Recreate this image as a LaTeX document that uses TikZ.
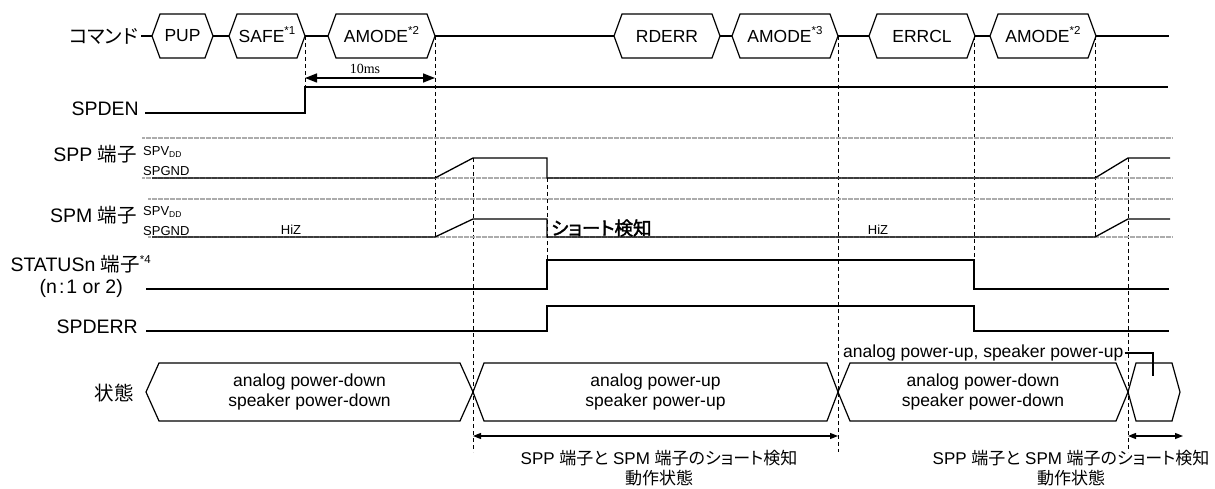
\documentclass[tikz,border=0pt]{standalone}
\usepackage{fontspec}
\setmainfont{Liberation Sans}
\newfontfamily\cjk[RawFeature=+palt]{Noto Sans CJK JP}
\newfontfamily\cjkbold[RawFeature=+palt,FakeBold=2]{Noto Sans CJK JP}
\newfontfamily\tenms{Liberation Serif}
\usetikzlibrary{arrows.meta}
\newcommand{\fs}[1]{\fontsize{#1}{#1}\selectfont}
\newcommand{\sups}[1]{\smash{\raisebox{8pt}{\fs{11.5}#1}}}
\newcommand{\subdd}{\raisebox{-1.5pt}{\fs{8.5}DD}}
% name, xl, xr, yc, half height, slant, style, text
\newcommand{\hexa}[8]{%
  \draw[outline] (#2,#4) -- ({#2+#6},{#4-#5}) -- ({#3-#6},{#4-#5}) -- (#3,#4)
    -- ({#3-#6},{#4+#5}) -- ({#2+#6},{#4+#5}) -- cycle;
  \coordinate (#1-w) at (#2,#4);
  \coordinate (#1-e) at (#3,#4);
  \node[#7] (#1) at ({(#2+#3)/2},#4) {#8};
}
\begin{document}
\begin{tikzpicture}[x=1pt,y=-1pt,
  sig/.style={line width=1.3pt, line join=miter},
  outline/.style={line width=1.2pt, line join=miter},
  refl/.style={gray!65, line width=1.2pt, dash pattern=on 0.7pt off 0.5pt},
  vdash/.style={line width=0.8pt, dash pattern=on 4pt off 3pt},
  rowlbl/.style={anchor=east, inner sep=0pt, font=\fs{19.5}},
  boxlbl/.style={inner sep=0pt, font=\fs{17.5}},
  small/.style={anchor=west, inner sep=0pt, font=\fs{13}},
  statelbl/.style={inner sep=0pt, font=\fontsize{17.5}{20}\selectfont, align=center},
  bottomlbl/.style={inner sep=0pt, font=\fontsize{17}{20}\selectfont, align=center},
  bigarr/.style={{Triangle[length=12pt,width=9pt]}-{Triangle[length=12pt,width=9pt]}, line width=1.4pt},
  smallarr/.style={{Triangle[length=8pt,width=6pt]}-{Triangle[length=8pt,width=6pt]}, line width=1.3pt}
]
\useasboundingbox (0,0) rectangle (1215,489);

% ---- dashed guide lines
\draw[vdash] (305,36) -- (305,87);
\draw[vdash] (435,36) -- (435,237);
\draw[vdash] (473,158) -- (473,452);
\draw[vdash] (547,178) -- (547,260);
\draw[vdash] (838,36) -- (838,452);
\draw[vdash] (974,36) -- (974,260);
\draw[vdash] (1095,36) -- (1095,237);
\draw[vdash] (1128,158) -- (1128,452);

% ---- row labels
\node[rowlbl] (cmd) at (138,36) {\cjk コマンド};
\node[rowlbl] (spden) at (139,109) {SPDEN};
\node[rowlbl] (spp) at (137,154) {SPP {\cjk 端子}};
\node[rowlbl] (spm) at (137,215) {SPM {\cjk 端子}};
\node[rowlbl] (status) at (140,264) {STATUSn {\cjk 端子}\rlap{\sups{*4}}};
\node[rowlbl] (nsel) at (123,288) {(n\kern2pt:\kern2pt1 or 2)};
\node[rowlbl] (spderr) at (138,327) {SPDERR};
\node[rowlbl] (state) at (134,393) {\cjk 状態};

% ---- command row
\hexa{pup}{152}{213}{36}{22}{8}{boxlbl}{PUP}
\hexa{safe}{229}{305}{36}{22}{8}{boxlbl}{SAFE\sups{*1}}
\hexa{amodea}{328}{435}{36}{22}{8}{boxlbl}{AMODE\sups{*2}}
\hexa{rderr}{614}{720}{36}{22}{8}{boxlbl}{RDERR}
\hexa{amodeb}{732}{838}{36}{22}{8}{boxlbl}{AMODE\sups{*3}}
\hexa{errcl}{869}{975}{36}{22}{8}{boxlbl}{ERRCL}
\hexa{amodec}{990}{1096}{36}{22}{8}{boxlbl}{AMODE\sups{*2}}
\coordinate (cmdend) at (1169,36);
\draw[sig] ([xshift=3pt]cmd.east) -- (pup-w);
\draw[sig] (pup-e) -- (safe-w);
\draw[sig] (safe-e) -- (amodea-w);
\draw[sig] (amodea-e) -- (rderr-w);
\draw[sig] (rderr-e) -- (amodeb-w);
\draw[sig] (amodeb-e) -- (errcl-w);
\draw[sig] (errcl-e) -- (amodec-w);
\draw[sig] (amodec-e) -- (cmdend);

% ---- 10ms
\coordinate (tl) at (305,78);
\coordinate (tr) at (435,78);
\draw[bigarr] (tl) -- (tr);
\node[inner sep=0pt, font=\tenms\fs{14}] (tms) at (365,69) {10ms};

% ---- SPDEN
\draw[sig] (145,113) -- (305,113) -- (305,87) -- (1168,87);

% ---- SPP
\draw[refl] (142,138) -- (1172,138);
\draw[refl] (142,178) -- (1172,178);
\draw[sig] (152,178) -- (435,178) -- (473,158) -- (547,158) -- (547,178) -- (1095,178) -- (1128,158) -- (1170,158);
\node[small] (sppv) at (143,152) {SPV\subdd};
\node[small] (sppg) at (143,171) {SPGND};

% ---- SPM
\draw[refl] (148,199) -- (1172,199);
\draw[refl] (148,237) -- (1172,237);
\draw[sig] (152,237) -- (435,237) -- (473,219) -- (547,219) -- (547,237) -- (1095,237) -- (1128,219) -- (1170,219);
\node[small] (spmv) at (143,212) {SPV\subdd};
\node[small] (spmg) at (143,231) {SPGND};
\node[small, anchor=center] (hiz1) at (291,230) {HiZ};
\node[small, anchor=center] (hiz2) at (878,230) {HiZ};
\node[anchor=west, inner sep=0pt, font=\cjkbold\fs{18.5}] (short) at (551,228) {ショート検知};

% ---- STATUSn / SPDERR
\draw[sig] (146,289) -- (547,289) -- (547,260) -- (974,260) -- (974,289) -- (1169,289);
\draw[sig] (146,331) -- (547,331) -- (547,306) -- (974,306) -- (974,331) -- (1169,331);

% ---- state row
\hexa{sta}{146}{473}{392}{29}{13}{statelbl}{analog power-down\\speaker power-down}
\hexa{stb}{473}{838}{392}{29}{11}{statelbl}{analog power-up\\speaker power-up}
\hexa{stc}{838}{1128}{392}{29}{12}{statelbl}{analog power-down\\speaker power-down}
\hexa{std}{1128}{1180}{392}{29}{8}{statelbl}{}
\node[anchor=west, inner sep=0pt, font=\fs{17.5}] (apu) at (843,353) {analog power-up, speaker power-up};
\coordinate (apuend) at (1153,376);
\draw[line width=1.2pt] ([xshift=1pt]apu.east) -| (apuend);

% ---- bottom arrows
\coordinate (a1l) at (473,436);
\coordinate (a1r) at (838,436);
\draw[smallarr] (a1l) -- (a1r);
\node[bottomlbl] (t1) at (659,468) {SPP {\cjk 端子と} SPM {\cjk 端子のショート検知}\\{\cjk 動作状態}};
\coordinate (a2l) at (1128,436);
\coordinate (a2r) at (1183,436);
\draw[smallarr] (a2l) -- (a2r);
\node[bottomlbl] (t2) at (1071,468) {SPP {\cjk 端子と} SPM {\cjk 端子のショート検知}\\{\cjk 動作状態}};
\end{tikzpicture}
\end{document}
